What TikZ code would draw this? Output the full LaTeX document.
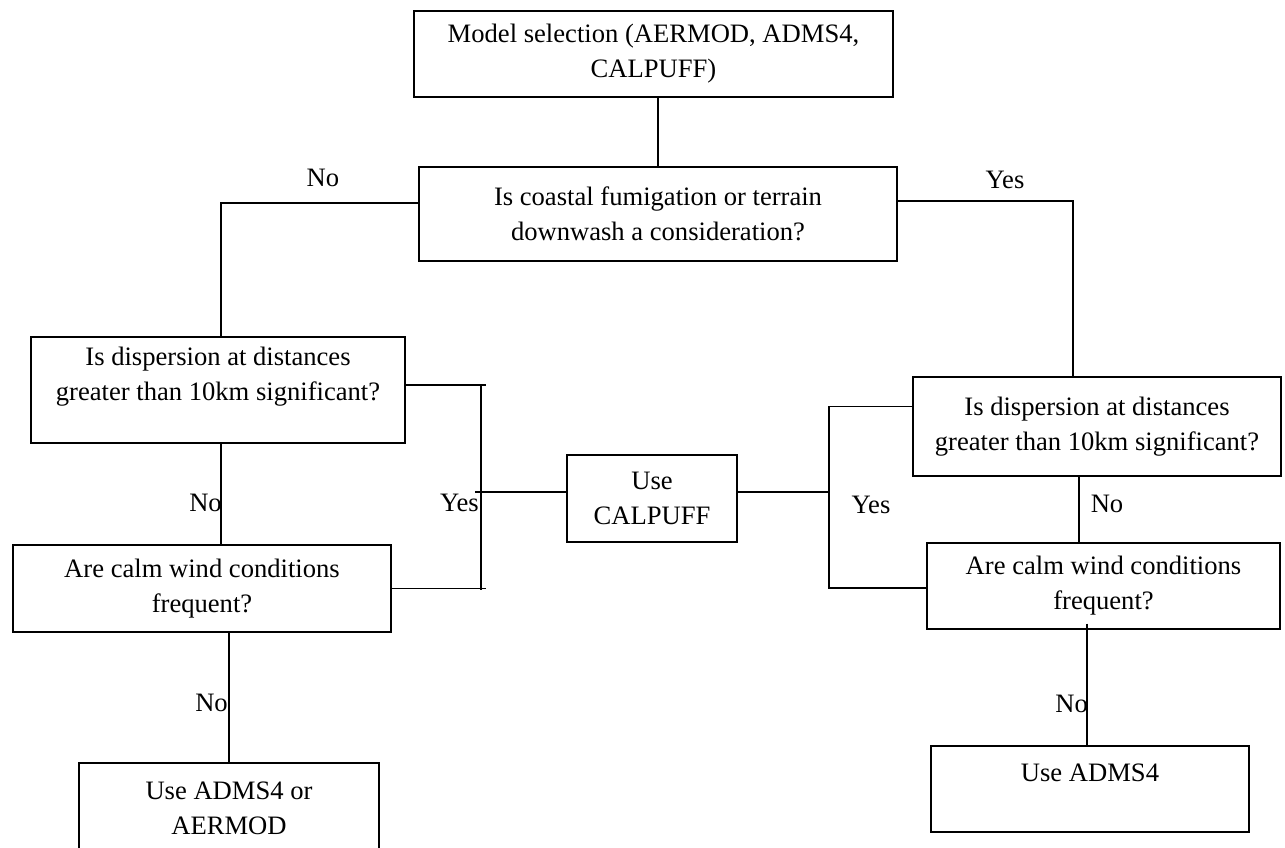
\documentclass[tikz,border=0pt]{standalone}
\usepackage{fontspec}
\setmainfont{Liberation Serif}
\usetikzlibrary{calc}

\begin{document}
\begin{tikzpicture}[x=1pt, y=-1pt,
            box/.style = {draw, line width=1.4pt, align=center, inner sep=0pt, font=\fontsize{26.6}{35}\selectfont},
            lbl/.style = {inner sep=0pt, font=\fontsize{26.6}{35}\selectfont},
            line/.style = {line width=1.4pt},
            ]
            \clip (0,0) rectangle (1285,848);

            \node[box, minimum width=479pt, minimum height=86pt]  (model)   at (653.5, 54)  {Model selection (AERMOD, ADMS4,\\CALPUFF)};
            \node[box, minimum width=478pt, minimum height=94pt]  (coastal) at (658, 214)   {Is coastal fumigation or terrain\\downwash a consideration?};

            \node[box, minimum width=374pt, minimum height=106pt, text depth=32pt] (dispL) at (218, 390) {Is dispersion at distances\\greater than 10km significant?};
            \node[box, minimum width=378pt, minimum height=87pt]  (calmL)   at (202, 588.5) {Are calm wind conditions\\frequent?};
            \node[box, minimum width=300pt, minimum height=90pt]  (useAA)   at (229, 808)   {Use ADMS4 or\\AERMOD};

            \node[box, minimum width=170pt, minimum height=87pt]  (useCal)  at (652, 498.5) {Use\\CALPUFF};

            \node[box, minimum width=368pt, minimum height=99pt]  (dispR)   at (1097, 426.5) {Is dispersion at distances\\greater than 10km significant?};
            \node[box, minimum width=353pt, minimum height=86pt]  (calmR)   at (1103.5, 586) {Are calm wind conditions\\frequent?};
            \node[box, minimum width=318pt, minimum height=86pt, text depth=32pt] (useA) at (1090, 789) {Use ADMS4};

            \node[lbl]              (noTop)  at (323, 178)  {No};
            \node[lbl]              (yesTop) at (1005, 180) {Yes};
            \node[lbl, anchor=east] (noL1)   at (222, 503)  {No};
            \node[lbl, anchor=east] (yesL)   at (479, 503)  {Yes};
            \node[lbl]              (yesR)   at (871, 505)  {Yes};
            \node[lbl]              (noR1)   at (1107, 504) {No};
            \node[lbl, anchor=east] (noL2)   at (228, 703)  {No};
            \node[lbl, anchor=east] (noR2)   at (1088, 704) {No};

            \coordinate (brL) at (481, 492);
            \coordinate (brR) at (829, 492);

            % top part
            \draw[line] (coastal.north |- model.south) -- (coastal.north);
            \draw[line] ([yshift=11pt]coastal.west) -| ($(dispL.north)+(3,0)$);
            \draw[line] ([yshift=13pt]coastal.east) -| ($(dispR.north)+(-24,0)$);

            % left side
            \draw[line] ($(dispL.south)+(3,0)$) coordinate (t) -- (t |- calmL.north);
            \draw[line] (useAA.north |- calmL.south) -- (useAA.north);
            \draw[line] ([yshift=5pt]dispL.east) coordinate (t) -- ($(t -| brL)+(5,0)$);
            \draw[line] (calmL.east) -- ($(calmL.east -| brL)+(5,0)$);
            \draw[line] ($(dispL.east -| brL)+(0,-4)$) -- ($(calmL.east -| brL)+(0,1)$);
            \draw[line] ($(brL)+(-6,0)$) -- ([yshift=6.5pt]useCal.west);

            % right side
            \draw[line] ([yshift=6.5pt]useCal.east) -- (brR);
            \draw[line] ([yshift=20pt]dispR.west) -| ($(brR |- calmR.west)+(0,2)$) -- ($(calmR.west)+(0,2)$);
            \draw[line] ($(dispR.south)+(-18,0)$) coordinate (t) -- (t |- calmR.north);
            \draw[line] ($(useA.north |- calmR.south)+(-3,-6)$) -- ($(useA.north)+(-3,0)$);

        \end{tikzpicture}
\end{document}
